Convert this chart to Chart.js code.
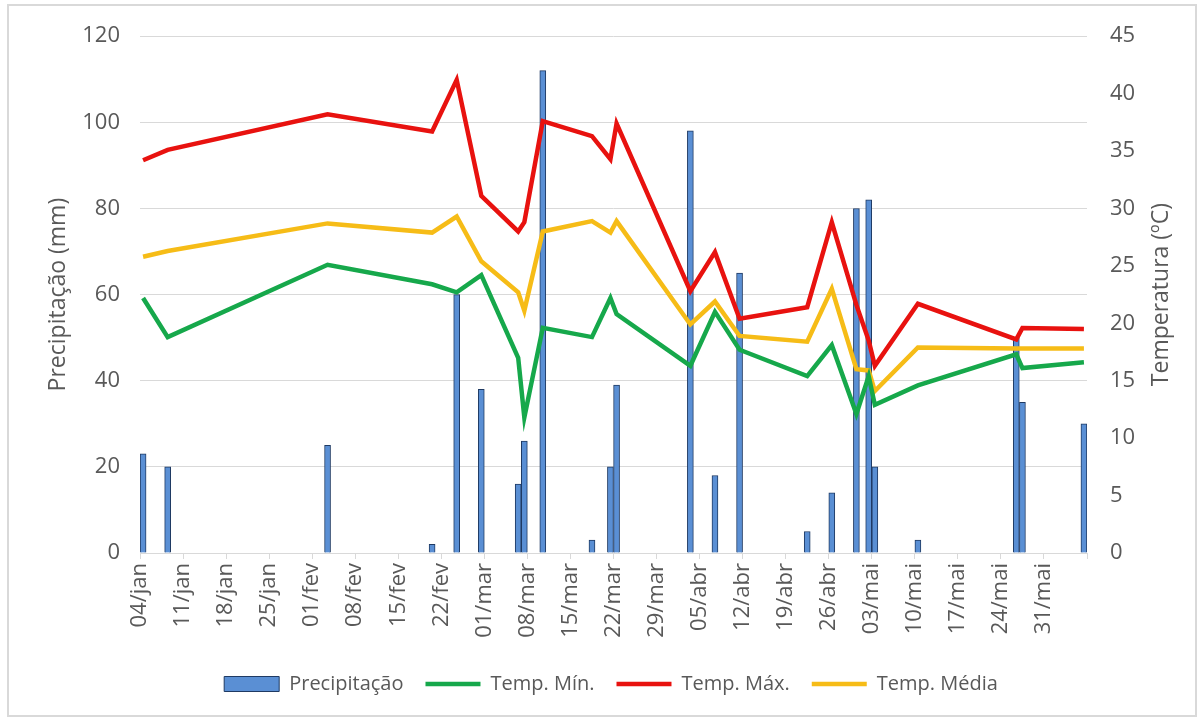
<!DOCTYPE html>
<html>
<head>
<meta charset="utf-8">
<script src="https://cdn.jsdelivr.net/npm/chart.js@4.4.1/dist/chart.umd.min.js"></script>
<style>
  body { margin: 0; background: #fff; }
  #wrap { position: relative; width: 1202px; height: 717px; }
  #chart { position: absolute; left: 0; top: 0; }
  #frame { position: absolute; left: 7px; top: 4px; width: 1186px; height: 709px; border: 2px solid #d9d9d9; pointer-events: none; }
</style>
</head>
<body>
<div id="wrap">
  <canvas id="chart" width="1202" height="717"></canvas>
  <div id="frame"></div>
</div>
<script>
// observation dates (same for rain and temperatures)
const dates = ["04/jan", "08/jan", "03/fev", "20/fev", "24/fev", "28/fev", "06/mar", "07/mar",
  "10/mar", "18/mar", "21/mar", "22/mar", "03/abr", "07/abr", "11/abr", "22/abr", "26/abr",
  "30/abr", "02/mai", "03/mai", "10/mai", "26/mai", "27/mai", "06/jun"];

const precip = [23, 20, 25, 2, 60, 38, 16, 26, 112, 3, 20, 39, 98, 18, 65, 5, 14, 80, 82, 20, 3, 50, 35, 30];
const tempMin = [22.2, 18.8, 25.1, 23.4, 22.7, 24.2, 17.0, 11.8, 19.6, 18.8, 22.2, 20.8, 16.3, 21.0,
  17.7, 15.4, 18.1, 12.1, 15.4, 12.9, 14.6, 17.3, 16.1, 16.6];
const tempMax = [34.2, 35.1, 38.2, 36.7, 41.2, 31.1, 28.0, 28.8, 37.6, 36.3, 34.3, 37.4, 22.8, 26.2,
  20.4, 21.4, 28.8, 21.6, 18.5, 16.3, 21.7, 18.6, 19.6, 19.5];
const tempMed = [25.8, 26.3, 28.7, 27.9, 29.3, 25.4, 22.7, 21.1, 28.0, 28.9, 27.9, 28.9, 19.9, 21.9,
  18.9, 18.4, 23.0, 16.0, 15.9, 14.1, 17.9, 17.8, 17.8, 17.8];

// weekly tick labels, from 04/jan to 07/jun (last one left empty)
const tickLabels = ["04/jan", "11/jan", "18/jan", "25/jan", "01/fev", "08/fev", "15/fev", "22/fev",
  "01/mar", "08/mar", "15/mar", "22/mar", "29/mar", "05/abr", "12/abr", "19/abr", "26/abr",
  "03/mai", "10/mai", "17/mai", "24/mai", "31/mai", ""];

// days counted from 04/jan
const monthOffset = { jan: -4, fev: 27, mar: 55, abr: 86, mai: 116, jun: 147 };
function dayIndex(s) {
  const [d, m] = s.split("/");
  return parseInt(d, 10) + monthOffset[m];
}
// each day is a slot; values sit in the middle of it
const xs = dates.map((d) => dayIndex(d) + 0.5);
const pairs = (vals) => vals.map((v, i) => ({ x: xs[i], y: v }));

const grey = "#595959";
Chart.defaults.font.family = "'Open Sans', sans-serif";
Chart.defaults.color = grey;

const rightTitle = {
  id: "rightTitle",
  afterDraw(chart) {
    const ctx = chart.ctx;
    const area = chart.chartArea;
    ctx.save();
    ctx.translate(1161, (area.top + area.bottom) / 2);
    ctx.rotate(-Math.PI / 2);
    ctx.font = "23px 'Open Sans'";
    ctx.fillStyle = grey;
    ctx.textAlign = "center";
    ctx.textBaseline = "middle";
    ctx.fillText("Temperatura (ºC)", 0, 0);
    ctx.restore();
  },
};

const lineStyle = (color) => ({
  type: "line",
  yAxisID: "y1",
  borderColor: color,
  backgroundColor: color,
  borderWidth: 4.5,
  pointRadius: 0,
  pointStyle: "line",
  tension: 0,
  order: 0,
});

new Chart(document.querySelector("#chart"), {
  type: "bar",
  data: {
    datasets: [
      {
        label: "Precipitação",
        data: pairs(precip),
        yAxisID: "y",
        backgroundColor: "#5a8fd4",
        borderColor: "#1f3a63",
        borderWidth: 1,
        barThickness: 6,
        pointStyle: "rect",
        order: 1,
      },
      { label: "Temp. Mín.", data: pairs(tempMin), ...lineStyle("#16a84b") },
      { label: "Temp. Máx.", data: pairs(tempMax), ...lineStyle("#e8120f") },
      { label: "Temp. Média", data: pairs(tempMed), ...lineStyle("#f6bc17") },
    ],
  },
  options: {
    responsive: false,
    animation: false,
    layout: { padding: { left: 40, right: 20, top: 33, bottom: 13 } },
    plugins: {
      legend: {
        position: "bottom",
        labels: {
          usePointStyle: true,
          pointStyleWidth: 55,
          boxHeight: 15,
          padding: 22,
          color: grey,
          font: { size: 20 },
          sort: (a, b) => a.datasetIndex - b.datasetIndex,
        },
      },
      tooltip: { enabled: false },
    },
    scales: {
      x: {
        type: "linear",
        offset: false,
        min: 0,
        max: 154,
        afterFit: (s) => { s.height = 99; },
        ticks: {
          stepSize: 7,
          autoSkip: false,
          minRotation: 90,
          maxRotation: 90,
          padding: 4,
          font: { size: 22 },
          callback: (v) => tickLabels[Math.round(v / 7)],
        },
        grid: { offset: false, drawOnChartArea: false, drawTicks: true, tickLength: 6, color: "#d9d9d9" },
        border: { color: "#d9d9d9" },
      },
      y: {
        position: "left",
        min: 0,
        max: 120,
        afterFit: (s) => { s.width = 100; },
        ticks: { stepSize: 20, padding: 20, font: { size: 22 } },
        grid: { color: "#d9d9d9", drawTicks: false },
        border: { display: false },
        title: { display: true, text: "Precipitação (mm)", font: { size: 23 }, padding: { top: 5, bottom: 0 } },
      },
      y1: {
        position: "right",
        min: 0,
        max: 45,
        afterFit: (s) => { s.width = 95; },
        ticks: { stepSize: 5, padding: 23, font: { size: 22 } },
        grid: { drawOnChartArea: false, drawTicks: false },
        border: { display: false },
      },
    },
  },
  plugins: [rightTitle],
});
</script>
</body>
</html>
